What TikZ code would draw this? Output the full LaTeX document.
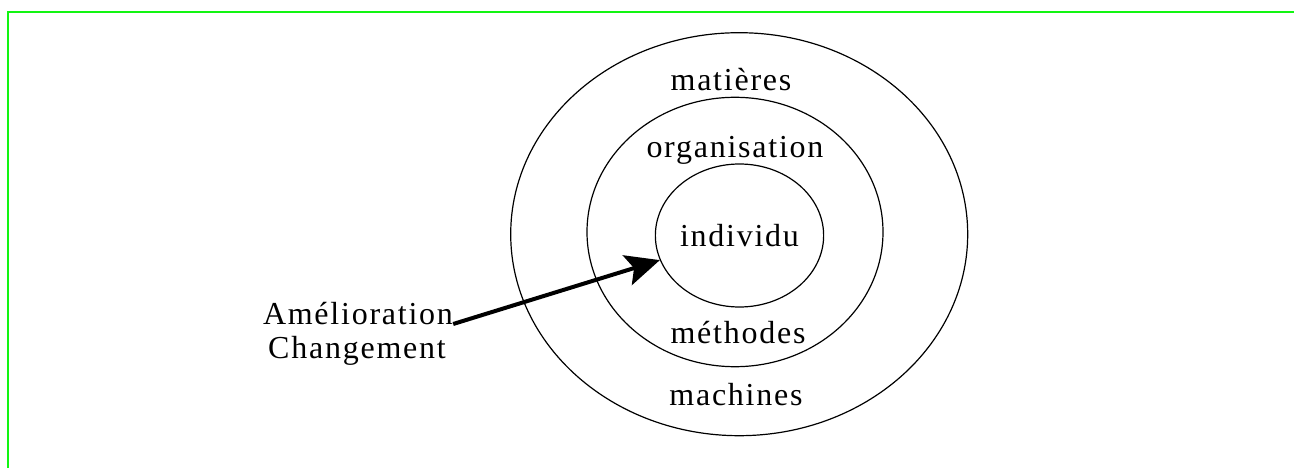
\documentclass[tikz,border=0pt]{standalone}
\usepackage{fontspec}
\setmainfont{Liberation Serif}[LetterSpace=5.5]
\usepackage{tikz}
\usetikzlibrary{arrows.meta,shapes.geometric}
\definecolor{framegreen}{RGB}{18,245,18}

\begin{document}
\begin{tikzpicture}[x=1pt,y=-1pt,
  ring/.style={ellipse,draw,line width=1.2pt,inner sep=0pt},
  label/.style={anchor=base,inner sep=0pt,font=\fontsize{32}{37}\selectfont},
  pushline/.style={line width=4pt,-{Stealth[length=34pt,width=31pt,inset=7pt]}}]
\useasboundingbox (0,0) rectangle (1294,468);
\draw[framegreen,line width=2.2pt] (8,472) -- (8,12) -- (1298,12);
\node[ring,minimum width=457pt,minimum height=403pt] (outer) at (739.2,234.2) {};
\node[ring,minimum width=296pt,minimum height=269.4pt] (middle) at (735,232) {};
\node[ring,minimum width=163.4pt,minimum height=143pt,font=\fontsize{32}{37}\selectfont] (inner) at (739.5,235.5) {individu};
\node[label] (mat) at (731,91) {matières};
\node[label] (org) at (735,158) {organisation};
\node[label] (meth) at (738,343) {méthodes};
\node[label] (mach) at (736,405) {machines};
\node[label] (amel) at (358,324) {Amélioration};
\node[label] (chg) at (357,358) {Changement};
\draw[pushline] (amel.base east) -- (inner);
\end{tikzpicture}
\end{document}
